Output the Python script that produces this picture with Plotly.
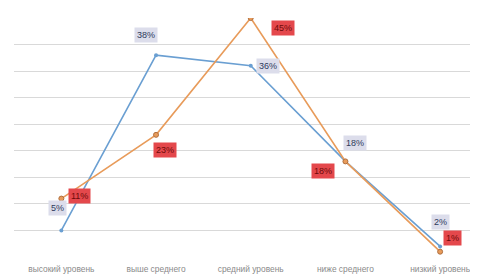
import plotly.graph_objects as go

categories = ["высокий уровень", "выше среднего", "средний уровень", "ниже среднего", "низкий уровень"]
blue_values = [5, 38, 36, 18, 2]
orange_values = [11, 23, 45, 18, 1]
y_ticks = [0, 5, 10, 15, 20, 25, 30, 35, 40, 45]

blue_shift = [(-4, 22), (-10, 20), (17, 0), (10, 18), (0, 24)]
orange_shift = [(18, 3), (9, -15), (32, -10), (-22, -10), (12, 14)]

xs = list(range(len(categories)))

fig = go.Figure()
fig.add_trace(go.Scatter(x=xs, y=blue_values, mode="lines+markers",
                         line=dict(color="#6A9FD2", width=1.6),
                         marker=dict(size=4, color="#6A9FD2"), hoverinfo="skip"))
fig.add_trace(go.Scatter(x=xs, y=orange_values, mode="lines+markers",
                         line=dict(color="#E89B5A", width=1.6),
                         marker=dict(size=5, color="#E89B5A", line=dict(color="#B07040", width=1)),
                         hoverinfo="skip"))

ann = []
for i, v in enumerate(blue_values):
    dx, dy = blue_shift[i]
    ann.append(dict(x=xs[i], y=v, text=f"{v}%", showarrow=False, xshift=dx, yshift=dy,
                    bgcolor="#DCDDEB", font=dict(size=9, color="#2E3A5C", family="Liberation Sans"),
                    borderpad=2))
for i, v in enumerate(orange_values):
    dx, dy = orange_shift[i]
    ann.append(dict(x=xs[i], y=v, text=f"{v}%", showarrow=False, xshift=dx, yshift=dy,
                    bgcolor="#E4484C", font=dict(size=9, color="#6E0A0A", family="Liberation Sans"),
                    borderpad=2))

# page body has an 8px default margin; compensate so the plot lands where the reference has it
fig.update_layout(
    width=470, height=271,
    margin=dict(l=6, r=0, t=10, b=22, autoexpand=False),
    plot_bgcolor="white", paper_bgcolor="white",
    showlegend=False,
    annotations=ann,
    xaxis=dict(tickmode="array", tickvals=xs, ticktext=categories, range=[-0.5, 4.4],
               showgrid=False, zeroline=False, showline=False, automargin=False,
               ticks="outside", ticklen=4, tickcolor="rgba(0,0,0,0)",
               tickfont=dict(size=8.4, color="#8A8A8A", family="Liberation Sans")),
    yaxis=dict(range=[0, 45], tickmode="array", tickvals=y_ticks, showticklabels=False,
               showgrid=True, gridcolor="#D9D9D9", gridwidth=1, zeroline=False,
               showline=False, automargin=False),
)

fig.write_html("out.html")
